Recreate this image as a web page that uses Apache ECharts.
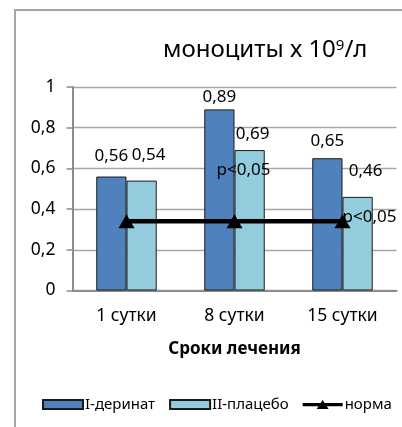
<!DOCTYPE html>
<html>
<head>
<meta charset="utf-8">
<script src="https://cdn.jsdelivr.net/npm/echarts@6/dist/echarts.min.js"></script>
<style>
  html, body { margin: 0; padding: 0; background: #fff; }
  #chart { width: 402px; height: 427px; }
</style>
</head>
<body>
<div id="chart"></div>
<script>
// Monocyte counts (x10^9/l) by day of treatment
const categories = ['1 сутки', '8 сутки', '15 сутки'];
const derinatValues = [0.56, 0.89, 0.65];
const placeboValues = [0.54, 0.69, 0.46];
const normValues = [0.34, 0.34, 0.34];
const yTicks = [0, 0.2, 0.4, 0.6, 0.8, 1];
// significance notes: [category, height on value axis, text]
const notes = [['8 сутки', 0.59, 'p<0,05'], ['15 сутки', 0.36, 'p<0,05']];

const FONT = '"Noto Sans", sans-serif';
const comma = v => String(v).replace('.', ',');

// small per-bar nudges of the value labels
const derinatLabelDist = [12, 4, 9];
const placeboLabelShift = [[7, -12], [3, -2], [8, -12]];

// legend icon for the norm line: thick stroke with a triangle marker
const normIcon = 'path://M0,3H40V6.2H0Z M20,0L26,9L14,9Z';

const chart = echarts.init(document.getElementById('chart'), null, { renderer: 'canvas' });

chart.setOption({
  animation: false,
  textStyle: { fontFamily: FONT },
  title: {
    text: 'моноциты х 10{sup|9}/л',
    left: 158,
    top: 33,
    textStyle: {
      fontFamily: FONT, fontSize: 24, fontWeight: 'normal', color: '#000',
      rich: { sup: { fontSize: 15, verticalAlign: 'top', fontFamily: FONT, color: '#000', padding: [0, 0, 9, 0] } }
    }
  },
  graphic: [{
    type: 'rect', silent: true, z: -1,
    shape: { x: 15, y: 10, width: 420, height: 440 },
    style: { fill: 'none', stroke: '#a6a6a6', lineWidth: 2 }
  }],
  legend: {
    left: 42, top: 397, padding: 0, width: 362,
    itemWidth: 40, itemHeight: 9, itemGap: 14,
    textStyle: { fontFamily: FONT, fontSize: 15, color: '#000', padding: [0, 0, 0, -3] },
    data: [
      { name: 'I-деринат', icon: 'rect' },
      { name: 'II-плацебо', icon: 'rect' },
      { name: 'норма', icon: normIcon, itemStyle: { color: '#000', borderWidth: 0 } }
    ]
  },
  grid: { left: 72.5, right: 5.5, top: 87, bottom: 136.5, containLabel: false },
  xAxis: {
    type: 'category',
    data: categories,
    name: 'Сроки лечения',
    nameLocation: 'middle',
    nameGap: 50,
    nameTextStyle: { fontFamily: FONT, fontSize: 17, fontWeight: 'bold', color: '#000' },
    axisLine: { lineStyle: { color: '#8c8c8c', width: 2 } },
    axisTick: { show: false },
    axisLabel: { fontFamily: FONT, fontSize: 17.5, color: '#000', margin: 17 }
  },
  yAxis: {
    type: 'value',
    min: yTicks[0], max: yTicks[yTicks.length - 1], interval: 0.2,
    axisLine: { show: true, lineStyle: { color: '#8c8c8c', width: 2 } },
    axisTick: { show: true, length: 6, lineStyle: { color: '#8c8c8c', width: 1.5 } },
    axisLabel: { fontFamily: FONT, fontSize: 17.5, color: '#000', margin: 17, formatter: comma },
    splitLine: { lineStyle: { color: '#a6a6a6', width: 1.3 } }
  },
  series: [
    {
      name: 'I-деринат',
      type: 'bar',
      barWidth: '28%',
      barGap: '0%',
      itemStyle: { color: '#4f81bd', borderColor: '#1a1a1a', borderWidth: 1 },
      label: { show: true, position: 'top', fontSize: 17, color: '#000', formatter: p => comma(p.value) },
      data: derinatValues.map((v, i) => ({ value: v, label: { distance: derinatLabelDist[i] } }))
    },
    {
      name: 'II-плацебо',
      type: 'bar',
      barWidth: '28%',
      barGap: '0%',
      itemStyle: { color: '#93cddd', borderColor: '#1a1a1a', borderWidth: 1 },
      label: { show: true, position: 'top', fontSize: 17, color: '#000', formatter: p => comma(p.value) },
      data: placeboValues.map((v, i) => ({ value: v, label: { offset: placeboLabelShift[i] } }))
    },
    {
      name: 'норма',
      type: 'line',
      z: 5,
      symbol: 'triangle',
      symbolSize: [16, 14],
      itemStyle: { color: '#000' },
      lineStyle: { color: '#000', width: 4.5 },
      data: normValues,
      markPoint: {
        symbol: 'circle',
        symbolSize: 1,
        itemStyle: { color: 'rgba(0,0,0,0)' },
        label: { show: true, position: 'inside', fontSize: 17, color: '#000', formatter: p => p.name },
        data: notes.map((n, i) => ({
          name: n[2], coord: [n[0], n[1]],
          label: { offset: i === 0 ? [9, 0] : [27, 0] }
        }))
      }
    }
  ]
});
</script>
</body>
</html>
